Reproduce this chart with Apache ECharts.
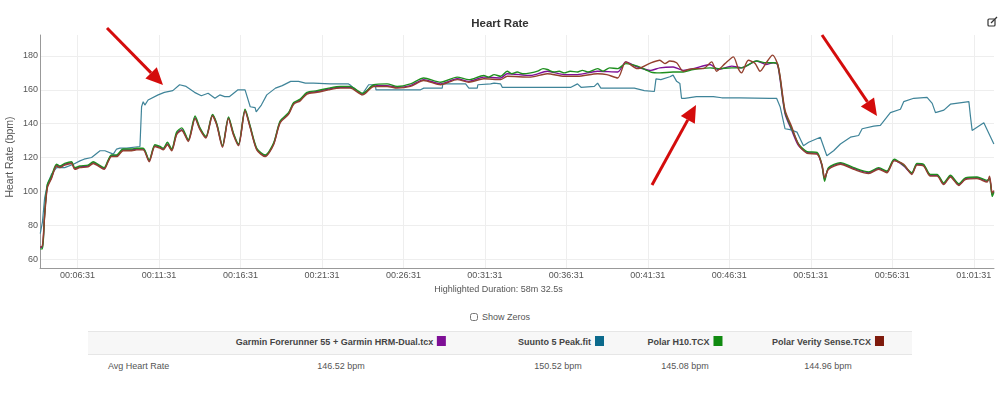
<!DOCTYPE html>
<html>
<head>
<meta charset="utf-8">
<title>Heart Rate</title>
<script src="https://cdn.jsdelivr.net/npm/echarts@6/dist/echarts.min.js"></script>
<style>
    html, body { margin: 0; padding: 0; background: #fff; font-family: "Liberation Sans", Arial, sans-serif; color: #555; }
    #page { position: relative; width: 1000px; height: 402px; overflow: hidden; }
    #main { position: absolute; left: 0; top: 0; width: 1000px; height: 300px; }
    .txt { position: absolute; font-size: 9.5px; line-height: 12px; white-space: nowrap; transform: translateX(-50%); }
    .head { font-weight: bold; font-size: 9px; color: #444; top: 336px; }
    .val { top: 360px; font-size: 9px; }
    .swatch { display: inline-block; width: 9px; height: 10px; margin-left: 4px; vertical-align: -1px; }
    #band { position: absolute; left: 88px; top: 331px; width: 824px; height: 24px; background: #f7f7f7; border-top: 1px solid #e6e6e6; border-bottom: 1px solid #e6e6e6; box-sizing: border-box; }
    #zeros { position: absolute; left: 470px; top: 311px; font-size: 9px; line-height: 12px; }
    #zeros input { width: 8px; height: 8px; margin: 0 4px 0 0; vertical-align: -1px; }
</style>
</head>
<body>
<div id="page">
    <div id="main"></div>
    <div id="zeros"><input type="checkbox">Show Zeros</div>
    <div id="band"></div>
    <div class="txt head" style="left:341px">Garmin Forerunner 55 + Garmin HRM-Dual.tcx<span class="swatch" style="background:#7e0f96"></span></div>
    <div class="txt head" style="left:561px">Suunto 5 Peak.fit<span class="swatch" style="background:#0b6a8c"></span></div>
    <div class="txt head" style="left:685px">Polar H10.TCX<span class="swatch" style="background:#108a10"></span></div>
    <div class="txt head" style="left:828px">Polar Verity Sense.TCX<span class="swatch" style="background:#7e1a0c"></span></div>
    <div class="txt" style="left:108px;top:360px;font-size:9px;transform:none">Avg Heart Rate</div>
    <div class="txt val" style="left:341px">146.52 bpm</div>
    <div class="txt val" style="left:558px">150.52 bpm</div>
    <div class="txt val" style="left:685px">145.08 bpm</div>
    <div class="txt val" style="left:828px">144.96 bpm</div>
</div>
<script>
//坐标轴刻度
var tickSecs = [391, 691, 991, 1291, 1591, 1891, 2191, 2491, 2791, 3091, 3391, 3691];
var tickLabels = ['00:06:31', '00:11:31', '00:16:31', '00:21:31', '00:26:31', '00:31:31', '00:36:31', '00:41:31', '00:46:31', '00:51:31', '00:56:31', '01:01:31'];
var hrTicks = [60, 80, 100, 120, 140, 160, 180];

//Garmin：时间（秒）与心率
var garminTimes = [254, 262, 270, 280, 295, 314, 326, 344, 369, 381, 400, 430, 449, 467, 489, 504, 516, 535, 559, 591, 609, 633, 655, 676, 695, 707, 722, 738, 756, 775, 799, 824, 842, 864, 888, 904, 925, 947, 965, 984, 1008, 1027, 1051, 1082, 1113, 1137, 1168, 1187, 1211, 1236, 1273, 1316, 1359, 1395, 1441, 1482, 1531, 1568, 1617, 1666, 1728, 1789, 1832, 1887, 1949, 1973, 2060, 2121, 2183, 2232, 2306, 2380, 2410, 2453, 2502, 2535, 2584, 2621, 2658, 2720, 2750, 2800, 2836, 2892, 2925, 2953, 2968, 2978, 2996, 3021, 3046, 3077, 3114, 3132, 3142, 3156, 3200, 3249, 3304, 3341, 3371, 3398, 3433, 3463, 3482, 3506, 3531, 3556, 3580, 3605, 3636, 3660, 3703, 3740, 3749, 3759, 3765];
var garminHr = [67, 67, 87, 103, 108, 115.5, 114.5, 116, 117, 113.5, 114.5, 115, 117, 115.5, 113.5, 118, 121, 121, 124.5, 124.5, 125, 125, 118, 127, 126, 125, 128, 124.5, 134, 136.5, 130, 143.5, 137, 132, 145, 139.5, 126.5, 143.5, 134, 127.5, 148, 138, 125, 121, 128, 141, 146, 152, 154, 158, 159, 160.5, 161.5, 161.5, 157.5, 162.5, 162.5, 161.5, 162.5, 166, 163.5, 166.5, 165, 167.5, 167, 169.5, 168.5, 171, 169, 169, 171, 170.5, 176.5, 173.5, 171.5, 173, 173.5, 171.5, 172.5, 175, 172, 174, 173, 177, 175, 176, 175, 166, 146, 136, 127, 123, 122.5, 115, 107, 113.5, 116.5, 113.5, 111, 113.5, 111.5, 118.5, 115, 110.5, 116, 115.5, 109.5, 109.5, 104.5, 109, 104, 107.5, 108, 106, 108, 98, 100];

//Polar H10
var h10Times = [254, 262, 270, 280, 295, 314, 326, 344, 369, 381, 400, 430, 449, 467, 489, 504, 516, 535, 559, 591, 609, 633, 655, 676, 695, 707, 722, 738, 756, 775, 799, 824, 842, 864, 888, 904, 925, 947, 965, 984, 1008, 1027, 1051, 1082, 1113, 1137, 1168, 1187, 1211, 1236, 1273, 1316, 1359, 1395, 1441, 1482, 1531, 1568, 1617, 1666, 1728, 1789, 1832, 1887, 1905, 1925, 1949, 1973, 1990, 2010, 2030, 2060, 2085, 2105, 2121, 2145, 2165, 2183, 2205, 2232, 2250, 2270, 2306, 2325, 2350, 2380, 2410, 2453, 2502, 2535, 2584, 2621, 2658, 2720, 2750, 2800, 2836, 2892, 2925, 2953, 2968, 2978, 2996, 3021, 3046, 3077, 3114, 3132, 3142, 3156, 3200, 3249, 3304, 3341, 3371, 3398, 3433, 3463, 3482, 3506, 3531, 3556, 3580, 3605, 3636, 3660, 3703, 3740, 3749, 3759, 3765];
var h10Hr = [66, 66, 86, 104, 109, 116, 115, 116.5, 117.5, 114, 115, 115.5, 117.5, 116, 114, 118.5, 121.5, 121.5, 125, 125, 125.5, 125.5, 118.5, 127.5, 126.5, 125.5, 129, 125, 135, 137.5, 130.5, 144.5, 137.5, 132.5, 145.5, 140, 127, 144, 134.5, 128, 148.5, 138.5, 125.5, 121.5, 128.5, 141.5, 146.5, 152.5, 154.5, 158.5, 159.5, 161, 162, 162, 158, 163, 163.5, 162, 163.5, 167, 164.5, 167.5, 166, 168.5, 167.5, 169, 168, 171, 169.5, 170.5, 169.5, 170, 171, 172.5, 172, 170.5, 171, 170, 171, 170.5, 171.5, 170.5, 172.5, 171, 173, 172.5, 175.5, 174, 170.5, 170, 170.5, 170.5, 172, 173, 172.5, 173, 173, 177, 176, 176, 175.5, 167, 147, 137, 128, 123.5, 123, 115.5, 106, 114, 117, 114, 111.5, 114, 112, 119, 115.5, 111, 116.5, 116, 110, 110, 105, 109.5, 104.5, 108, 108.5, 106.5, 107.5, 97, 99.5];

//Polar Verity Sense
var verityTimes = [254, 262, 270, 280, 295, 314, 326, 344, 369, 381, 400, 430, 449, 467, 489, 504, 516, 535, 559, 591, 609, 633, 655, 676, 695, 707, 722, 738, 756, 775, 799, 824, 842, 864, 888, 904, 925, 947, 965, 984, 1008, 1027, 1051, 1082, 1113, 1137, 1168, 1187, 1211, 1236, 1273, 1316, 1359, 1395, 1441, 1482, 1531, 1568, 1617, 1666, 1728, 1789, 1832, 1887, 1949, 1973, 2060, 2121, 2183, 2232, 2306, 2340, 2380, 2410, 2453, 2496, 2535, 2554, 2572, 2597, 2621, 2640, 2664, 2695, 2726, 2744, 2775, 2806, 2824, 2836, 2861, 2886, 2904, 2929, 2950, 2968, 2978, 2996, 3021, 3046, 3077, 3114, 3132, 3142, 3156, 3200, 3249, 3304, 3341, 3371, 3398, 3433, 3463, 3482, 3506, 3531, 3556, 3580, 3605, 3636, 3660, 3703, 3740, 3749, 3759, 3765];
var verityHr = [67, 68, 85, 102, 107.5, 115, 114, 115.5, 116.5, 113, 114, 114.5, 116.5, 115, 113, 117.5, 120.5, 120.5, 124, 124, 124.5, 124.5, 117.5, 126.5, 125.5, 124.5, 127.5, 124, 133.5, 136, 129.5, 143, 136.5, 131.5, 144.5, 139, 126, 143, 133.5, 127, 147.5, 137.5, 124.5, 120.5, 127.5, 140.5, 145.5, 151.5, 153.5, 157.5, 158.5, 160, 161, 161, 157, 162, 162, 161, 162, 165.5, 163, 166, 164.5, 166.5, 166, 168, 167.5, 169.5, 168, 168, 169.5, 169, 167, 176.5, 172.5, 175.5, 177.5, 175.5, 177, 176, 171, 172, 172.5, 172.5, 176.5, 171, 175.5, 179.5, 172.5, 170, 177.5, 175.5, 171, 176.5, 180.5, 175.5, 168, 148, 138, 127.5, 122.5, 122, 116, 108, 113, 116, 113, 110.5, 113, 111, 118, 116, 110, 115.5, 115, 109, 109, 104, 108.5, 103.5, 107, 107.5, 105.5, 109, 99, 100.5];

//Suunto
var suuntoTimes = [254, 262, 270, 280, 295, 314, 326, 344, 376, 400, 415, 443, 449, 474, 492, 523, 535, 547, 572, 621, 627, 633, 639, 651, 688, 711, 742, 767, 791, 822, 847, 872, 897, 915, 933, 951, 982, 1008, 1027, 1045, 1049, 1068, 1088, 1120, 1145, 1176, 1205, 1230, 1260, 1322, 1389, 1398, 1438, 1463, 1488, 1490, 1654, 1666, 1734, 1736, 1820, 1832, 1863, 1865, 1912, 1925, 1949, 1955, 2060, 2208, 2232, 2245, 2294, 2306, 2318, 2441, 2478, 2515, 2521, 2539, 2572, 2584, 2597, 2609, 2615, 2627, 2670, 2732, 2763, 2830, 2941, 2965, 2978, 2996, 3015, 3040, 3064, 3083, 3126, 3150, 3175, 3200, 3237, 3267, 3280, 3323, 3347, 3384, 3421, 3433, 3470, 3519, 3538, 3550, 3581, 3605, 3673, 3679, 3685, 3728, 3765];
var suuntoHr = [75, 82, 96, 104, 110, 114, 114, 114, 116, 118, 119, 120, 120, 124, 124, 122, 125, 125.5, 125.5, 126.5, 150, 153, 151, 154, 157, 158.5, 159.5, 163, 162, 158.5, 156.5, 158, 155, 157, 156, 156, 160, 160, 150, 149.5, 147, 151, 157, 161, 162.5, 165, 165, 164, 164, 163.5, 163.5, 162.5, 157, 163, 163, 160, 160, 161, 161, 163.5, 163.5, 161, 161, 163, 163.5, 164, 163.5, 161.5, 161.5, 161.5, 163.5, 161.5, 162, 164, 161, 161, 159.5, 159, 166.5, 166, 167.7, 168.7, 165, 163.7, 155, 155, 156, 156, 155.3, 155.3, 155, 155, 150, 137, 136.5, 135, 127, 129, 132, 121, 124, 128, 132, 133, 137, 138.5, 139, 146.5, 148.5, 153, 155, 155.5, 152, 146.5, 148, 151.5, 153, 144, 136, 140.5, 128];

//图片上的红色标注箭头（起点、终点，像素）
var arrows = [[[107, 28], [163, 85]], [[652, 185], [696, 105]], [[822, 35], [877, 116]]];

function pairs(times, values) {
    return times.map(function (t, i) { return [t, values[i]]; });
}

function makeLine(name, color, times, values, width, smooth) {
    return {
        name: name,
        type: 'line',
        data: pairs(times, values),
        showSymbol: false,
        smooth: smooth,
        silent: true,
        lineStyle: { color: color, width: width },
        itemStyle: { color: color }
    };
}

//箭头用 graphic 画：一条粗线加一个三角形
function makeArrows() {
    var out = [];
    arrows.forEach(function (a) {
        var x0 = a[0][0], y0 = a[0][1], x1 = a[1][0], y1 = a[1][1];
        var len = Math.sqrt((x1 - x0) * (x1 - x0) + (y1 - y0) * (y1 - y0));
        var ux = (x1 - x0) / len, uy = (y1 - y0) / len;
        var bx = x1 - ux * 17, by = y1 - uy * 17;
        out.push({ type: 'line', shape: { x1: x0, y1: y0, x2: bx, y2: by }, style: { stroke: '#d40c0c', lineWidth: 3 }, z: 50 });
        out.push({ type: 'polygon', shape: { points: [[x1, y1], [bx - uy * 8, by + ux * 8], [bx + uy * 8, by - ux * 8]] }, style: { fill: '#d40c0c' }, z: 50 });
    });
    //右上角的小图标
    out.push({ type: 'rect', shape: { x: 988, y: 19, width: 7, height: 7, r: 1 }, style: { fill: 'none', stroke: '#333', lineWidth: 1.2 }, z: 50 });
    out.push({ type: 'line', shape: { x1: 991, y1: 23, x2: 997, y2: 17 }, style: { stroke: '#333', lineWidth: 1.2 }, z: 50 });
    return out;
}

var myChart = echarts.init(document.getElementById('main'));
myChart.setOption({
    animation: false,
    title: {
        text: 'Heart Rate',
        left: 'center',
        top: 13,
        textStyle: { fontFamily: 'Liberation Sans', fontSize: 11.5, fontWeight: 'bold', color: '#333' }
    },
    grid: { left: 40, right: 6, top: 35, bottom: 32, outerBoundsMode: 'none' },
    xAxis: {
        type: 'value',
        min: 253,
        max: 3765.5,
        name: 'Highlighted Duration: 58m 32.5s',
        nameLocation: 'middle',
        nameGap: 10,
        nameTextStyle: { fontFamily: 'Liberation Sans', fontSize: 9, color: '#555', padding: [0, 37, 0, 0] },
        axisLine: { show: true, lineStyle: { color: '#999', width: 1 } },
        axisTick: { show: false, customValues: tickSecs },
        axisLabel: {
            customValues: tickSecs,
            fontFamily: 'Liberation Sans',
            fontSize: 9,
            color: '#555',
            margin: 3,
            formatter: function (v) { return tickLabels[tickSecs.indexOf(v)]; }
        },
        splitLine: { show: true, lineStyle: { color: '#eeeeee', width: 1 } }
    },
    yAxis: {
        type: 'value',
        min: 54.7,
        max: 192.4,
        name: 'Heart Rate (bpm)',
        nameLocation: 'middle',
        nameGap: 24,
        nameMoveOverlap: false,
        nameTextStyle: { fontFamily: 'Liberation Sans', fontSize: 10.5, color: '#555', padding: [0, 11, 0, 0] },
        axisLine: { show: true, lineStyle: { color: '#999', width: 1 } },
        axisTick: { show: false, customValues: hrTicks },
        axisLabel: { customValues: hrTicks, fontFamily: 'Liberation Sans', fontSize: 9, color: '#555', margin: 2 },
        splitLine: { show: true, lineStyle: { color: '#eeeeee', width: 1 } }
    },
    series: [
        makeLine('Garmin Forerunner 55 + Garmin HRM-Dual.tcx', '#7e0f96', garminTimes, garminHr, 1.4, 0.25),
        makeLine('Suunto 5 Peak.fit', '#3f8499', suuntoTimes, suuntoHr, 1.2, false),
        makeLine('Polar H10.TCX', '#1f8f1f', h10Times, h10Hr, 1.4, 0.25),
        makeLine('Polar Verity Sense.TCX', '#94402f', verityTimes, verityHr, 1.4, 0.25)
    ],
    graphic: makeArrows()
});
</script>
</body>
</html>
